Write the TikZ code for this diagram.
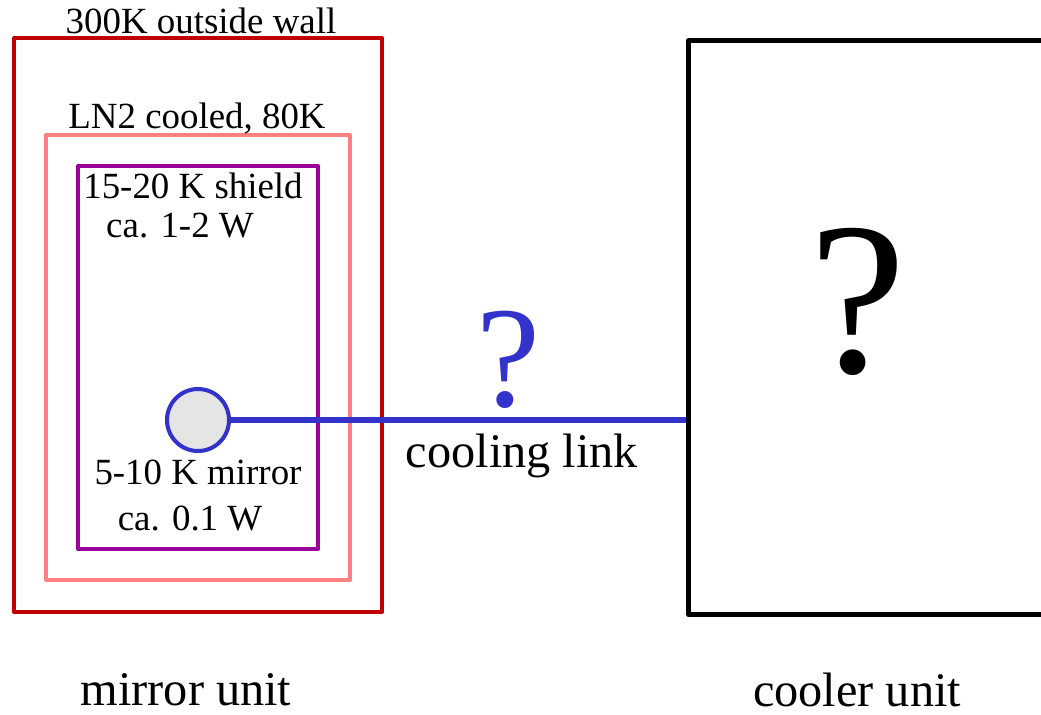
\documentclass[tikz,border=0pt]{standalone}
\usepackage{fontspec}
\setmainfont{Liberation Serif}
\usepackage{xcolor}

\definecolor{wallred}{HTML}{C00000}
\definecolor{lnpink}{HTML}{FF8080}
\definecolor{shieldpurple}{HTML}{990099}
\definecolor{linkblue}{HTML}{3333CC}

\tikzset{
	small/.style={font=\fontsize{21}{24}\selectfont},
	big/.style={font=\fontsize{27.5}{31}\selectfont},
}

\begin{document}
\begin{tikzpicture}[x=0.02cm,y=-0.02cm,line join=round]
	\useasboundingbox (0,0) rectangle (1041,714);
	\clip (0,0) rectangle (1041,714);

	\draw[wallred,line width=2.3pt] (14,38) rectangle (382,612);
	\node[small,inner sep=0pt] (wall) at (201,21) {300K outside wall};
	\draw[lnpink,line width=2.3pt] (46,135) rectangle (350,580);
	\node[small,inner sep=0pt] (ln) at (197,119) {LN2 cooled, 80K};
	\draw[shieldpurple,line width=2.3pt] (78,166) rectangle (318,549);
	\node[small,inner sep=0pt] (shield) at (193,186) {15-20 K shield};
	\node[small,inner sep=0pt] (shieldw) at (180,226) {ca. 1-2 W};

	\node[small,inner sep=0pt] (mirrort) at (198,472) {5-10 K mirror};
	\node[small,inner sep=0pt] (mirrorw) at (190,518) {ca. 0.1 W};

	\node[draw=black,line width=2.8pt,minimum width=400*0.02cm,minimum height=574*0.02cm,
		anchor=north west,inner sep=0pt] (cooler) at (686,38) {};
	\node[font=\fontsize{124}{124}\selectfont,inner sep=0pt] (coolerq) at (858,302) {?};

	\node[circle,draw=linkblue,fill=black!10,line width=2.3pt,minimum size=62*0.02cm,inner sep=0pt] (mirror) at (198,420) {};
	\draw[linkblue,line width=3.4pt] (mirror.east) -- (mirror -| cooler.west);
	\node[linkblue,font=\fontsize{82}{82}\selectfont,inner sep=0pt] (linkq) at (508,360) {?};
	\node[big,inner sep=0pt] (link) at (522,456) {cooling link};

	\node[big,inner sep=0pt] (mirrorunit) at (186,690) {mirror unit};
	\node[big,inner sep=0pt] (coolerunit) at (857,690) {cooler unit};
\end{tikzpicture}
\end{document}
